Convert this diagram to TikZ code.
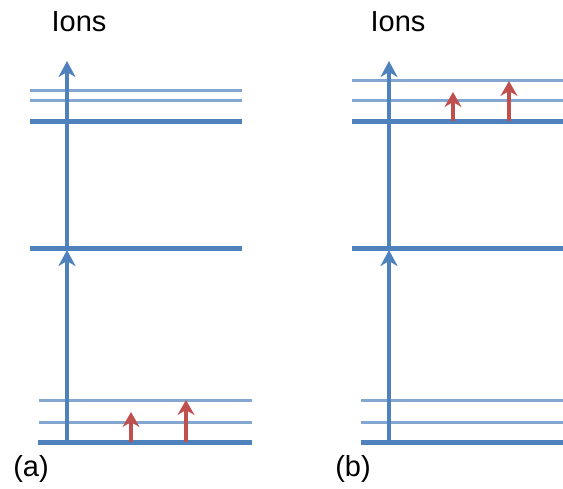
\documentclass[tikz,border=0pt]{standalone}
\usepackage{fontspec}
\setmainfont{Liberation Sans}
\usetikzlibrary{arrows.meta}
\definecolor{lvlblue}{HTML}{4F81BD}
\definecolor{exred}{HTML}{C0504D}
\begin{document}
\begin{tikzpicture}[x=1pt,y=-1pt,
	thick level/.style={lvlblue,line width=5pt},
	thin level/.style={lvlblue!70,line width=3pt},
	ion arrow/.style={lvlblue,line width=4pt,-{Stealth[length=16pt,width=17pt,inset=5pt]}},
	red arrow/.style={exred,line width=3.5pt,-{Stealth[length=15pt,width=17pt,inset=5pt]}},
	lab/.style={font=\fontsize{29}{29}\selectfont,inner sep=0pt}]
	\useasboundingbox (0,0) rectangle (563,488);
	\def\ybot{442};\def\ymid{248};\def\ytop{121};
	% (a)
	\draw[thin level] (30,90)--(242,90) (30,100)--(242,100);
	\draw[thick level] (30,\ytop)--(242,\ytop);
	\draw[thick level] (30,\ymid)--(242,\ymid);
	\draw[thin level] (39,400)--(252,400) (39,422)--(252,422);
	\draw[thick level] (38,\ybot)--(252,\ybot);
	\coordinate (a0) at (67,\ybot); \coordinate (a1) at (67,\ymid+2); \coordinate (a2) at (67,61);
	\draw[ion arrow] (a0)--(a1);
	\draw[ion arrow] (a1)--(a2);
	\coordinate (ra1) at (131,\ybot); \coordinate (ra1t) at (131,412);
	\coordinate (ra2) at (186,\ybot); \coordinate (ra2t) at (186,400);
	\draw[red arrow] (ra1)--(ra1t);
	\draw[red arrow] (ra2)--(ra2t);
	\node[lab] (ionsa) at (79,22) {Ions};
	\node[lab] (laba) at (31,469) {(a)};
	% (b)
	\draw[thin level] (352,80)--(563,80) (352,100)--(563,100);
	\draw[thick level] (352,\ytop)--(563,\ytop);
	\draw[thick level] (352,\ymid)--(563,\ymid);
	\draw[thin level] (361,400)--(563,400) (361,422)--(563,422);
	\draw[thick level] (361,\ybot)--(563,\ybot);
	\coordinate (b0) at (389,\ybot); \coordinate (b1) at (389,\ymid+2); \coordinate (b2) at (389,61);
	\draw[ion arrow] (b0)--(b1);
	\draw[ion arrow] (b1)--(b2);
	\coordinate (rb1) at (453,\ytop); \coordinate (rb1t) at (453,92);
	\coordinate (rb2) at (509,\ytop); \coordinate (rb2t) at (509,81);
	\draw[red arrow] (rb1)--(rb1t);
	\draw[red arrow] (rb2)--(rb2t);
	\node[lab] (ionsb) at (398,22) {Ions};
	\node[lab] (labb) at (353,469) {(b)};
\end{tikzpicture}
\end{document}
